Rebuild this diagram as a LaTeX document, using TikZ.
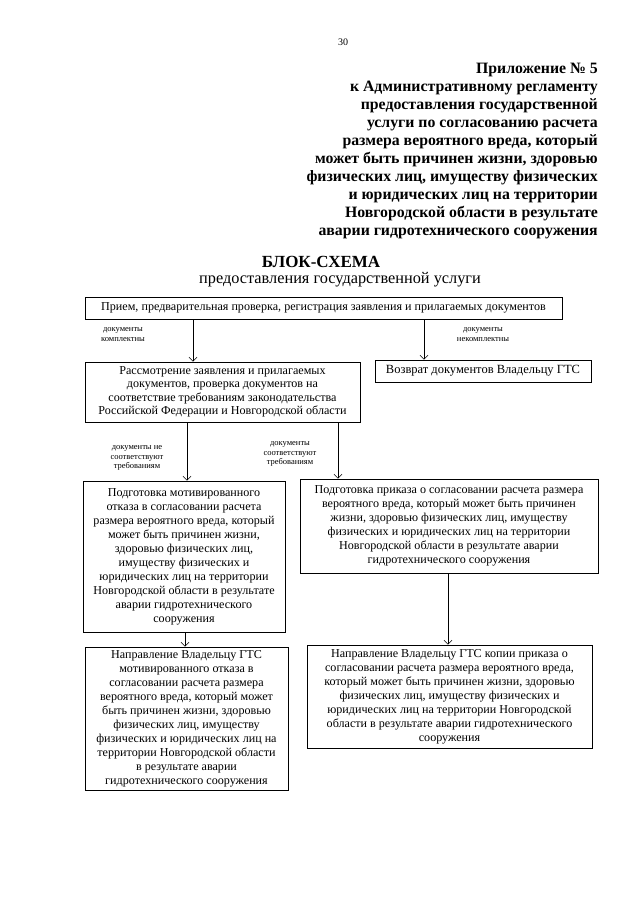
\documentclass[tikz,border=0pt]{standalone}
\usepackage{fontspec}
\setmainfont{Liberation Serif}
\usetikzlibrary{arrows.meta}
\tikzset{
  box/.style={draw=black, line width=0.8pt, align=center, inner sep=2pt,
    font=\fontsize{12.1}{14}\selectfont},
  lbl/.style={align=center, inner sep=0pt, font=\fontsize{8.5}{9.8}\selectfont},
  arr/.style={line width=0.6pt, -{Straight Barb[length=4pt,width=8pt,line width=0.6pt]}},
}
\begin{document}
\begin{tikzpicture}[x=1pt,y=-1pt]
\useasboundingbox[fill=white] (0,0) rectangle (640,905);

\node[inner sep=0pt, font=\fontsize{10}{12}\selectfont] (pg) at (343,42) {30};

\node[anchor=east, align=right, inner sep=0pt, font=\bfseries\fontsize{15.8}{18}\selectfont] (hdr) at (598,151)
{Приложение № 5\\
к Административному регламенту\\
предоставления государственной\\
услуги по согласованию расчета\\
размера вероятного вреда, который\\
может быть причинен жизни, здоровью\\
физических лиц, имуществу физических\\
и юридических лиц на территории\\
Новгородской области в результате\\
аварии гидротехнического сооружения};

\node[inner sep=0pt, font=\bfseries\fontsize{17}{18}\selectfont] (ttl) at (321,262) {БЛОК-СХЕМА};
\node[inner sep=0pt, font=\fontsize{16.3}{18}\selectfont] (sub) at (340,280) {предоставления государственной услуги};

\node[box, minimum width=477pt, minimum height=22pt] (b1) at (323.5,308)
{Прием, предварительная проверка, регистрация заявления и прилагаемых документов};

\node[box, minimum width=275pt, minimum height=60pt, font=\fontsize{12.1}{13.5}\selectfont] (b2) at (222.5,392)
{Рассмотрение заявления и прилагаемых\\
документов, проверка документов на\\
соответствие требованиям законодательства\\
Российской Федерации и Новгородской области};

\node[box, minimum width=216pt, minimum height=22pt, font=\fontsize{12.5}{14}\selectfont] (bR) at (483,371)
{Возврат документов Владельцу ГТС};

\node[box, minimum width=202pt, minimum height=151pt] (b3) at (184,556.5)
{Подготовка мотивированного\\
отказа в согласовании расчета\\
размера вероятного вреда, который\\
может быть причинен жизни,\\
здоровью физических лиц,\\
имуществу физических и\\
юридических лиц на территории\\
Новгородской области в результате\\
аварии гидротехнического\\
сооружения};

\node[box, minimum width=298pt, minimum height=94pt] (b4) at (449,526)
{Подготовка приказа о согласовании расчета размера\\
вероятного вреда, который может быть причинен\\
жизни, здоровью физических лиц, имуществу\\
физических и юридических лиц на территории\\
Новгородской области в результате аварии\\
гидротехнического сооружения};

\node[box, minimum width=203pt, minimum height=143pt] (b5) at (186.5,718.5)
{Направление Владельцу ГТС\\
мотивированного отказа в\\
согласовании расчета размера\\
вероятного вреда, который может\\
быть причинен жизни, здоровью\\
физических лиц, имуществу\\
физических и юридических лиц на\\
территории Новгородской области\\
в результате аварии\\
гидротехнического сооружения};

\node[box, minimum width=285pt, minimum height=103pt] (b6) at (449.5,696.5)
{Направление Владельцу ГТС копии приказа о\\
согласовании расчета размера вероятного вреда,\\
который может быть причинен жизни, здоровью\\
физических лиц, имуществу физических и\\
юридических лиц на территории Новгородской\\
области в результате аварии гидротехнического\\
сооружения};

\node[lbl] (l1) at (123,334.5) {документы\\комплектны};
\node[lbl] (l2) at (483,334.5) {документы\\некомплектны};
\node[lbl] (l3) at (137,458) {документы не\\соответствуют\\требованиям};
\node[lbl] (l4) at (290,454) {документы\\соответствуют\\требованиям};

\coordinate (xa) at (193,0);
\coordinate (xb) at (424,0);
\coordinate (xc) at (187,0);
\coordinate (xd) at (338,0);
\coordinate (xe) at (185,0);
\coordinate (xf) at (448,0);

\draw[arr] (b1.south -| xa) -- (b2.north -| xa);
\draw[arr] (b1.south -| xb) -- (bR.north -| xb);
\draw[arr] (b2.south -| xc) -- (b3.north -| xc);
\draw[arr] (b2.south -| xd) -- (b4.north -| xd);
\draw[arr] (b3.south -| xe) -- (b5.north -| xe);
\draw[arr] (b4.south -| xf) -- (b6.north -| xf);
\end{tikzpicture}
\end{document}
